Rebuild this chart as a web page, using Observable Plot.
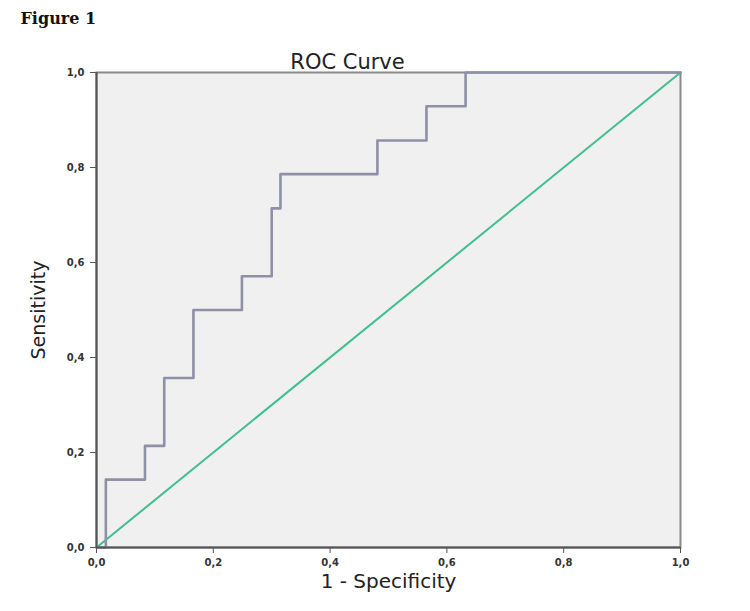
<!DOCTYPE html>
<html>
<head>
<meta charset="utf-8">
<script src="https://cdn.jsdelivr.net/npm/d3@7"></script>
<script src="https://cdn.jsdelivr.net/npm/@observablehq/plot@0.6"></script>
<style>
  html, body { margin: 0; padding: 0; background: #fff; }
  #chart svg { display: block; }
</style>
</head>
<body>
<div id="chart"></div>
<script>
// ROC curve vertices (1 - specificity, sensitivity)
const fpr = [0, 0.016, 0.083, 0.116, 0.166, 0.249, 0.300, 0.315, 0.481, 0.565, 0.632, 1.0];
const tpr = [0, 0.143, 0.214, 0.357, 0.500, 0.571, 0.714, 0.786, 0.857, 0.929, 1.0, 1.0];
// Reference diagonal
const diagX = [0, 1];
const diagY = [0, 1];
// Tick values
const ticks = [0, 0.2, 0.4, 0.6, 0.8, 1.0];

const roc = fpr.map((x, i) => ({x, y: tpr[i]}));
const diag = diagX.map((x, i) => ({x, y: diagY[i]}));
const fmt = d => d.toFixed(1).replace(".", ",");

const chart = Plot.plot({
  width: 750,
  height: 611,
  marginLeft: 96,
  marginRight: 70,
  marginTop: 72,
  marginBottom: 64,
  style: {fontFamily: "DejaVu Sans, sans-serif", background: "#fff"},
  x: {domain: [0, 1]},
  y: {domain: [0, 1]},
  marks: [
    Plot.frame({fill: "#f0f0f0", stroke: "#8a8a8a", strokeWidth: 2}),
    Plot.line(diag, {x: "x", y: "y", stroke: "#3fbf8f", strokeWidth: 2}),
    Plot.line(roc, {x: "x", y: "y", curve: "step-after", stroke: "#8d90a6", strokeWidth: 2.6}),
    Plot.ruleX([0], {stroke: "#555", strokeWidth: 2}),
    Plot.ruleY([0], {stroke: "#555", strokeWidth: 2}),
    Plot.axisX({ticks, tickFormat: fmt, tickSize: 6, tickPadding: 5, fontSize: 10, fontWeight: "bold", fill: "#333", stroke: "#555", label: null}),
    Plot.axisY({ticks, tickFormat: fmt, tickSize: 6, tickPadding: 6, fontSize: 10, fontWeight: "bold", fill: "#333", stroke: "#555", label: null}),
    Plot.text(["1 - Specificity"], {frameAnchor: "bottom", dy: 40, fontSize: 20, fill: "#222"}),
    Plot.text(["Sensitivity"], {frameAnchor: "left", dx: -58, rotate: -90, textAnchor: "middle", fontSize: 19, fill: "#222"}),
    Plot.text(["ROC Curve"], {frameAnchor: "top", dx: -41, dy: -18, fontSize: 21, fill: "#222"}),
    Plot.text(["Figure 1"], {frameAnchor: "top-left", dx: -76, dy: -60, textAnchor: "start", fontSize: 16, fontWeight: "bold", fontFamily: "DejaVu Serif, serif", fill: "#111"})
  ]
});
document.getElementById("chart").appendChild(chart);
</script>
</body>
</html>
